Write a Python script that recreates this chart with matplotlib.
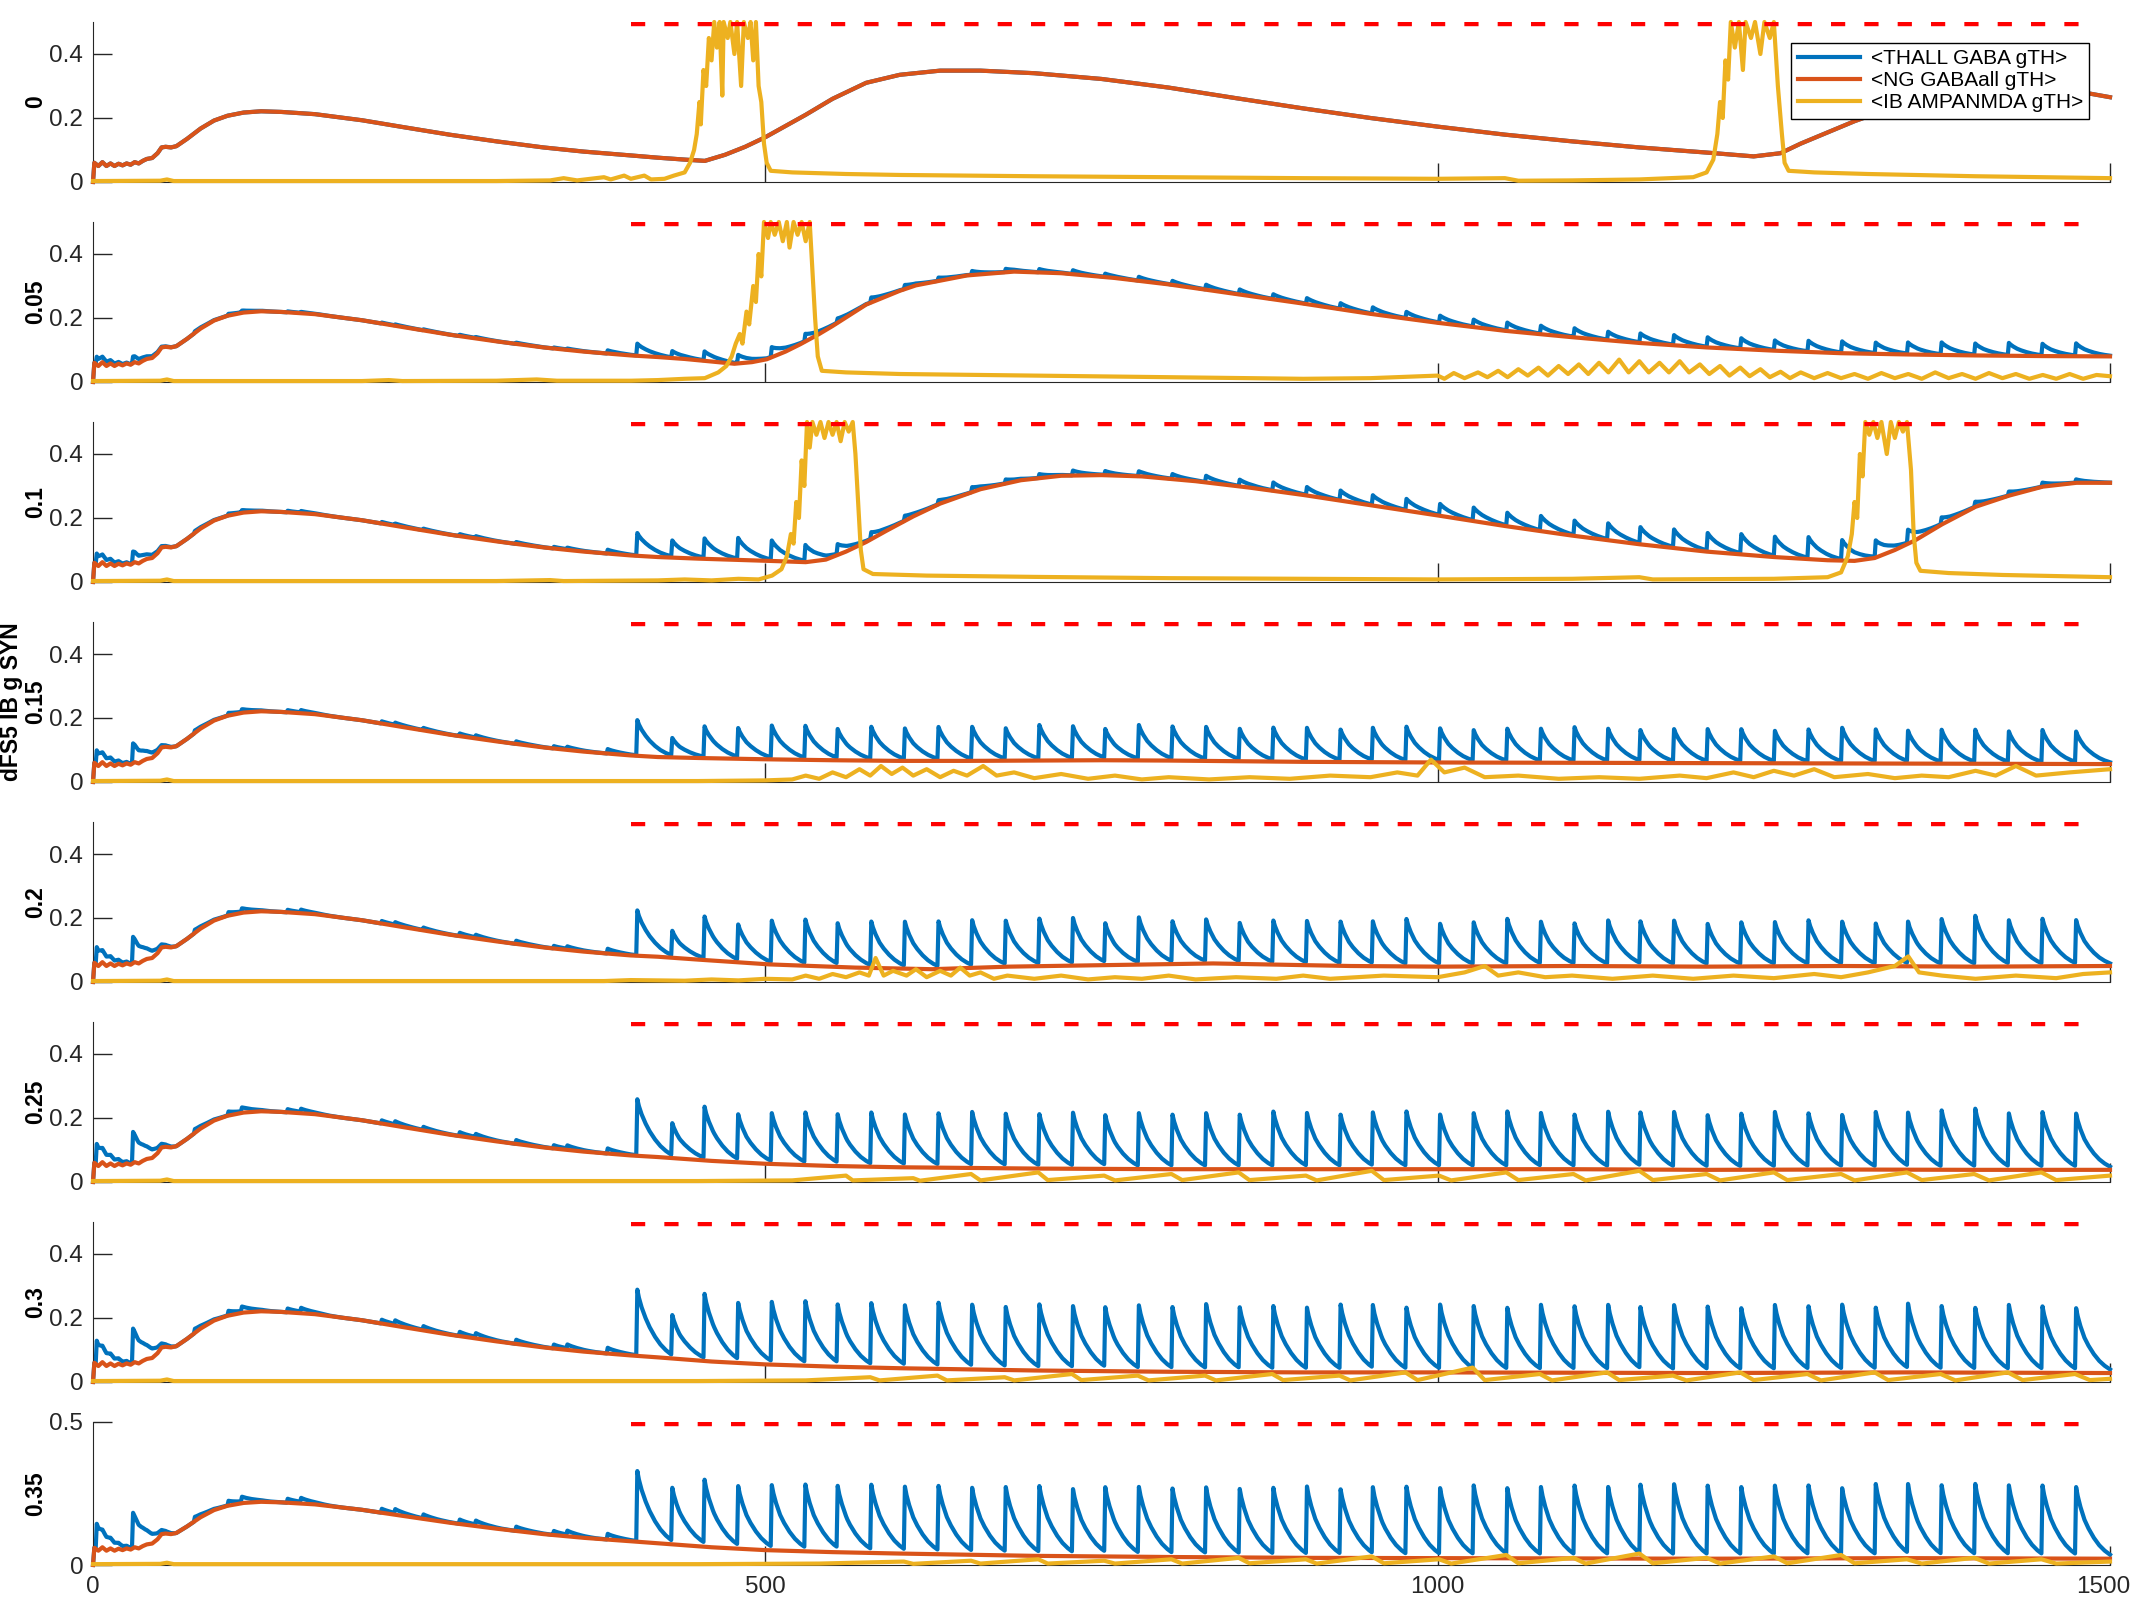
import matplotlib.pyplot as plt
import matplotlib.transforms as mtransforms
import numpy as np

plt.rcParams['font.family'] = ['Liberation Sans', 'DejaVu Sans']

BLUE = '#0072BD'
ORANGE = '#D95319'
YELLOW = '#EDB120'
GREY = '#262626'

panel_labels = ['0', '0.05', '0.1', 'dFS5 IB g SYN\n0.15', '0.2', '0.25', '0.3', '0.35']
legend_labels = ['<THALL GABA gTH>', '<NG GABAall gTH>', '<IB AMPANMDA gTH>']

# --- NG GABAall (orange): shared start, then per panel (time ms, value) ---
ng_early = [(0, 0.0), (1, 0.06), (4, 0.05), (7, 0.062), (10, 0.05), (13, 0.058), (16, 0.05),
            (19, 0.057), (22, 0.052), (25, 0.058), (28, 0.054), (31, 0.062), (34, 0.058),
            (37, 0.066), (40, 0.072), (44, 0.075), (48, 0.09), (51, 0.108), (54, 0.11),
            (58, 0.108), (62, 0.112), (70, 0.135), (80, 0.167), (90, 0.192), (100, 0.207),
            (112, 0.217), (125, 0.221), (140, 0.219), (165, 0.212), (200, 0.193), (230, 0.172),
            (265, 0.148), (300, 0.127), (335, 0.108), (365, 0.095), (400, 0.083)]

ng_late_0 = [(420, 0.076), (440, 0.07), (455, 0.066), (470, 0.085), (485, 0.11), (500, 0.14),
             (515, 0.175), (530, 0.21), (550, 0.26), (575, 0.31), (600, 0.335), (630, 0.348),
             (660, 0.348), (700, 0.34), (750, 0.322), (800, 0.295), (850, 0.262), (900, 0.23),
             (950, 0.2), (1000, 0.173), (1050, 0.148), (1100, 0.127), (1150, 0.108), (1200, 0.092),
             (1235, 0.08), (1255, 0.09), (1270, 0.12), (1290, 0.155), (1310, 0.19), (1340, 0.235),
             (1370, 0.272), (1400, 0.298), (1430, 0.305), (1460, 0.295), (1500, 0.265)]
ng_late_1 = [(420, 0.078), (440, 0.072), (460, 0.064), (477, 0.057), (490, 0.062), (501, 0.071),
             (515, 0.095), (526, 0.118), (540, 0.15), (550, 0.175), (575, 0.242), (600, 0.285),
             (612, 0.302), (650, 0.333), (685, 0.345), (720, 0.34), (760, 0.325), (800, 0.305),
             (850, 0.275), (900, 0.245), (950, 0.213), (1000, 0.185), (1050, 0.16), (1100, 0.14),
             (1150, 0.122), (1200, 0.108), (1250, 0.098), (1300, 0.09), (1350, 0.086),
             (1400, 0.083), (1450, 0.081), (1500, 0.08)]
ng_late_2 = [(420, 0.078), (450, 0.073), (480, 0.069), (510, 0.065), (530, 0.062), (545, 0.07),
             (560, 0.095), (575, 0.125), (590, 0.16), (610, 0.205), (630, 0.245), (660, 0.29),
             (690, 0.318), (720, 0.332), (750, 0.334), (780, 0.33), (820, 0.315), (860, 0.295),
             (900, 0.272), (950, 0.24), (1000, 0.208), (1050, 0.175), (1100, 0.145), (1150, 0.118),
             (1200, 0.095), (1250, 0.078), (1290, 0.068), (1310, 0.066), (1325, 0.075), (1340, 0.1),
             (1355, 0.13), (1375, 0.18), (1400, 0.235), (1425, 0.27), (1450, 0.298), (1475, 0.31),
             (1500, 0.31)]
ng_late_3 = [(420, 0.078), (450, 0.075), (500, 0.071), (550, 0.068), (600, 0.066), (650, 0.066),
             (700, 0.067), (750, 0.068), (800, 0.067), (850, 0.065), (900, 0.063), (950, 0.062),
             (1000, 0.061), (1100, 0.06), (1200, 0.059), (1300, 0.058), (1400, 0.057), (1500, 0.056)]
ng_late_4 = [(420, 0.079), (450, 0.07), (503, 0.055), (567, 0.045), (624, 0.04), (681, 0.048),
             (757, 0.053), (833, 0.058), (935, 0.05), (1000, 0.048), (1100, 0.05), (1200, 0.048),
             (1300, 0.05), (1400, 0.048), (1500, 0.05)]
ng_late_5 = [(420, 0.078), (460, 0.066), (500, 0.057), (550, 0.05), (600, 0.046), (700, 0.042),
             (800, 0.04), (900, 0.04), (1000, 0.04), (1100, 0.04), (1200, 0.038), (1300, 0.039),
             (1400, 0.038), (1500, 0.038)]
ng_late_6 = [(420, 0.077), (460, 0.064), (500, 0.055), (550, 0.048), (600, 0.043), (700, 0.036),
             (800, 0.032), (900, 0.03), (1000, 0.03), (1200, 0.028), (1350, 0.03), (1500, 0.028)]
ng_late_7 = [(420, 0.076), (460, 0.062), (500, 0.052), (550, 0.045), (600, 0.04), (700, 0.032),
             (800, 0.028), (900, 0.025), (1000, 0.024), (1200, 0.022), (1350, 0.024), (1500, 0.022)]

# --- THALL GABA (blue): spike times (ms) and spike heights above the NG trace ---
early_spike_t = [2, 29, 75, 100, 110, 144, 154, 214, 224, 245, 272, 284, 314, 342, 352, 382]
spike_t = [404, 430, 454, 479, 504, 529, 553, 578, 603, 628, 653, 678, 703, 728, 752, 777,
           802, 827, 852, 877, 902, 927, 951, 976, 1001, 1026, 1051, 1076, 1101, 1126, 1150,
           1175, 1200, 1225, 1250, 1275, 1300, 1325, 1349, 1374, 1399, 1424, 1449, 1474]

# decay shape of one spike (ms after spike, fraction of height)
spike_shape_dt = [0, 0.8, 2, 4, 7, 10, 14, 18, 22, 26, 32]
spike_shape_f = [0, 1.0, 0.88, 0.74, 0.58, 0.45, 0.31, 0.2, 0.12, 0.06, 0]

early_amp_1 = [0.025, 0.02, 0.005, 0.005, 0.005, 0.003, 0.003, 0.003, 0.003, 0.003, 0.004, 0.003, 0.004, 0.003, 0.003, 0.01]
early_amp_2 = [0.035, 0.035, 0.006, 0.006, 0.006, 0.005, 0.005, 0.005, 0.005, 0.005, 0.006, 0.005, 0.006, 0.005, 0.005, 0.012]
early_amp_3 = [0.045, 0.06, 0.008, 0.008, 0.008, 0.007, 0.007, 0.007, 0.007, 0.007, 0.008, 0.007, 0.008, 0.007, 0.007, 0.014]
early_amp_4 = [0.055, 0.08, 0.01, 0.01, 0.01, 0.008, 0.008, 0.008, 0.008, 0.008, 0.01, 0.008, 0.01, 0.008, 0.008, 0.015]
early_amp_5 = [0.065, 0.095, 0.012, 0.012, 0.012, 0.01, 0.01, 0.01, 0.01, 0.01, 0.012, 0.01, 0.012, 0.01, 0.01, 0.016]
early_amp_6 = [0.075, 0.105, 0.013, 0.014, 0.014, 0.012, 0.012, 0.012, 0.012, 0.012, 0.013, 0.012, 0.013, 0.012, 0.012, 0.018]
early_amp_7 = [0.09, 0.12, 0.015, 0.016, 0.016, 0.014, 0.014, 0.014, 0.014, 0.014, 0.015, 0.014, 0.015, 0.014, 0.014, 0.02]

amp_1 = [0.037, 0.02, 0.028, 0.025, 0.03, 0.022, 0.012, 0.015, 0.012, 0.01, 0.012, 0.01, 0.01, 0.012,
         0.01, 0.012, 0.012, 0.015, 0.015, 0.015, 0.018, 0.018, 0.02, 0.02, 0.022, 0.022, 0.025, 0.025,
         0.027, 0.025, 0.028, 0.03, 0.03, 0.032, 0.03, 0.033, 0.035, 0.033, 0.035, 0.037, 0.035, 0.038,
         0.036, 0.038]
amp_2 = [0.07, 0.05, 0.06, 0.065, 0.06, 0.05, 0.03, 0.02, 0.015, 0.012, 0.015, 0.012, 0.012, 0.015,
         0.012, 0.015, 0.015, 0.02, 0.02, 0.025, 0.025, 0.03, 0.03, 0.035, 0.035, 0.04, 0.04, 0.045,
         0.045, 0.05, 0.05, 0.055, 0.055, 0.06, 0.06, 0.065, 0.06, 0.05, 0.04, 0.02, 0.015, 0.012,
         0.012, 0.01]
amp_3 = [0.11, 0.055, 0.095, 0.09, 0.1, 0.1, 0.09, 0.1, 0.095, 0.1, 0.1, 0.095, 0.105, 0.1, 0.09,
         0.105, 0.1, 0.1, 0.095, 0.1, 0.1, 0.095, 0.1, 0.105, 0.1, 0.095, 0.1, 0.1, 0.105, 0.1, 0.095,
         0.1, 0.1, 0.1, 0.095, 0.1, 0.105, 0.1, 0.095, 0.1, 0.1, 0.095, 0.1, 0.095]
amp_4 = [0.14, 0.077, 0.13, 0.11, 0.13, 0.136, 0.126, 0.137, 0.138, 0.14, 0.14, 0.135, 0.14, 0.14,
         0.12, 0.14, 0.125, 0.13, 0.12, 0.13, 0.13, 0.13, 0.13, 0.14, 0.125, 0.13, 0.14, 0.13, 0.125,
         0.135, 0.13, 0.135, 0.125, 0.13, 0.13, 0.135, 0.13, 0.125, 0.13, 0.14, 0.15, 0.135, 0.14, 0.135]
amp_5 = [0.175, 0.1, 0.16, 0.14, 0.15, 0.155, 0.15, 0.16, 0.155, 0.16, 0.165, 0.16, 0.16, 0.165,
         0.155, 0.165, 0.16, 0.165, 0.16, 0.17, 0.165, 0.16, 0.165, 0.17, 0.16, 0.165, 0.17, 0.165,
         0.16, 0.17, 0.165, 0.17, 0.16, 0.165, 0.17, 0.165, 0.16, 0.17, 0.165, 0.175, 0.18, 0.165,
         0.17, 0.165]
amp_6 = [0.205, 0.125, 0.2, 0.175, 0.185, 0.19, 0.18, 0.19, 0.185, 0.195, 0.19, 0.185, 0.195, 0.19,
         0.185, 0.195, 0.19, 0.2, 0.19, 0.195, 0.19, 0.2, 0.195, 0.19, 0.2, 0.195, 0.19, 0.2, 0.195,
         0.2, 0.19, 0.2, 0.195, 0.19, 0.2, 0.195, 0.2, 0.19, 0.2, 0.195, 0.19, 0.2, 0.195, 0.19]
amp_7 = [0.245, 0.185, 0.22, 0.205, 0.215, 0.22, 0.215, 0.225, 0.22, 0.225, 0.22, 0.225, 0.23, 0.22,
         0.225, 0.23, 0.225, 0.23, 0.225, 0.23, 0.235, 0.225, 0.23, 0.235, 0.23, 0.24, 0.23, 0.235,
         0.24, 0.235, 0.24, 0.245, 0.24, 0.235, 0.24, 0.24, 0.23, 0.245, 0.24, 0.24, 0.245, 0.24,
         0.24, 0.235]

# --- IB AMPANMDA (yellow): (time ms, value) ---
ib_0 = [(0, 0.003), (50, 0.004), (55, 0.008), (60, 0.003), (300, 0.003), (340, 0.005), (350, 0.012),
        (360, 0.005), (380, 0.015), (385, 0.008), (395, 0.02), (400, 0.01), (410, 0.02), (415, 0.008),
        (425, 0.01), (432, 0.02), (440, 0.03), (444, 0.06), (447, 0.1), (449, 0.15), (451, 0.25),
        (452, 0.18), (454, 0.35), (456, 0.3), (458, 0.45), (460, 0.38), (462, 0.5), (464, 0.42),
        (466, 0.5), (468, 0.27), (469, 0.5), (472, 0.45), (474, 0.5), (477, 0.4), (479, 0.5),
        (482, 0.3), (484, 0.5), (487, 0.45), (489, 0.5), (491, 0.38), (493, 0.5), (495, 0.3),
        (497, 0.25), (499, 0.12), (501, 0.06), (504, 0.035), (520, 0.03), (560, 0.025), (600, 0.022),
        (700, 0.018), (800, 0.015), (900, 0.012), (1000, 0.01), (1050, 0.012), (1060, 0.004),
        (1100, 0.005), (1150, 0.008), (1190, 0.015), (1200, 0.03), (1205, 0.07), (1208, 0.15),
        (1210, 0.25), (1212, 0.2), (1214, 0.38), (1216, 0.32), (1218, 0.5), (1221, 0.42), (1224, 0.5),
        (1227, 0.35), (1229, 0.5), (1233, 0.45), (1236, 0.5), (1240, 0.4), (1243, 0.5), (1247, 0.45),
        (1250, 0.5), (1253, 0.3), (1256, 0.15), (1258, 0.06), (1261, 0.035), (1280, 0.03),
        (1320, 0.025), (1400, 0.018), (1500, 0.012)]
ib_1 = [(0, 0.003), (50, 0.004), (55, 0.008), (60, 0.003), (200, 0.003), (220, 0.006), (230, 0.003),
        (300, 0.004), (330, 0.008), (345, 0.004), (400, 0.004), (420, 0.006), (440, 0.01), (455, 0.012),
        (465, 0.03), (471, 0.05), (475, 0.08), (478, 0.12), (481, 0.15), (483, 0.12), (486, 0.22),
        (488, 0.18), (491, 0.3), (493, 0.25), (495, 0.4), (497, 0.33), (499, 0.5), (502, 0.45),
        (504, 0.5), (507, 0.46), (510, 0.5), (513, 0.44), (516, 0.5), (518, 0.42), (521, 0.5),
        (524, 0.46), (527, 0.5), (530, 0.44), (533, 0.5), (535, 0.35), (537, 0.2), (539, 0.08),
        (542, 0.035), (560, 0.03), (600, 0.025), (700, 0.02), (800, 0.015), (900, 0.01), (950, 0.012),
        (1000, 0.02), (1005, 0.01), (1012, 0.028), (1020, 0.012), (1030, 0.03), (1037, 0.015),
        (1045, 0.035), (1052, 0.015), (1060, 0.04), (1067, 0.02), (1075, 0.045), (1082, 0.02),
        (1090, 0.05), (1097, 0.025), (1105, 0.055), (1112, 0.025), (1120, 0.06), (1127, 0.03),
        (1135, 0.07), (1142, 0.03), (1150, 0.065), (1157, 0.03), (1165, 0.06), (1172, 0.03),
        (1180, 0.065), (1187, 0.03), (1195, 0.055), (1202, 0.025), (1210, 0.05), (1217, 0.02),
        (1225, 0.045), (1232, 0.018), (1240, 0.04), (1247, 0.015), (1255, 0.032), (1262, 0.012),
        (1270, 0.03), (1280, 0.012), (1290, 0.028), (1300, 0.012), (1310, 0.025), (1320, 0.01),
        (1330, 0.028), (1340, 0.012), (1350, 0.025), (1360, 0.01), (1370, 0.03), (1380, 0.012),
        (1390, 0.025), (1400, 0.01), (1410, 0.028), (1420, 0.012), (1430, 0.025), (1440, 0.01),
        (1450, 0.022), (1460, 0.01), (1470, 0.025), (1480, 0.01), (1490, 0.022), (1500, 0.018)]
ib_2 = [(0, 0.003), (50, 0.004), (55, 0.008), (60, 0.003), (300, 0.003), (340, 0.006), (350, 0.003),
        (420, 0.005), (440, 0.008), (460, 0.005), (480, 0.01), (495, 0.008), (505, 0.02), (512, 0.04),
        (516, 0.08), (519, 0.15), (521, 0.12), (523, 0.25), (525, 0.2), (527, 0.38), (529, 0.3),
        (531, 0.5), (533, 0.42), (535, 0.5), (538, 0.46), (541, 0.5), (544, 0.45), (547, 0.5),
        (550, 0.46), (553, 0.5), (556, 0.44), (559, 0.5), (562, 0.47), (565, 0.5), (567, 0.4),
        (569, 0.25), (571, 0.1), (573, 0.04), (580, 0.025), (620, 0.02), (700, 0.016), (800, 0.012),
        (900, 0.01), (1000, 0.008), (1100, 0.01), (1150, 0.015), (1160, 0.008), (1250, 0.01),
        (1290, 0.015), (1300, 0.03), (1305, 0.08), (1308, 0.15), (1310, 0.25), (1312, 0.2),
        (1314, 0.4), (1316, 0.33), (1318, 0.5), (1321, 0.46), (1324, 0.5), (1327, 0.45), (1330, 0.5),
        (1334, 0.4), (1337, 0.5), (1340, 0.45), (1343, 0.5), (1346, 0.47), (1349, 0.5), (1352, 0.35),
        (1354, 0.15), (1356, 0.06), (1359, 0.035), (1380, 0.028), (1420, 0.022), (1500, 0.015)]
ib_3 = [(0, 0.003), (50, 0.004), (55, 0.008), (60, 0.003), (450, 0.003), (500, 0.005), (520, 0.008),
        (530, 0.02), (540, 0.01), (550, 0.03), (560, 0.015), (570, 0.04), (578, 0.02), (586, 0.05),
        (594, 0.025), (602, 0.045), (610, 0.02), (620, 0.04), (630, 0.015), (640, 0.035), (650, 0.02),
        (662, 0.05), (672, 0.02), (685, 0.03), (700, 0.012), (720, 0.025), (740, 0.01), (760, 0.02),
        (780, 0.008), (800, 0.015), (830, 0.008), (860, 0.015), (890, 0.01), (920, 0.02), (950, 0.015),
        (970, 0.03), (985, 0.02), (995, 0.07), (1005, 0.03), (1020, 0.045), (1035, 0.015), (1060, 0.02),
        (1090, 0.01), (1120, 0.015), (1150, 0.01), (1180, 0.02), (1200, 0.012), (1220, 0.03),
        (1235, 0.015), (1250, 0.035), (1265, 0.02), (1280, 0.04), (1295, 0.015), (1320, 0.025),
        (1340, 0.012), (1360, 0.02), (1380, 0.015), (1400, 0.035), (1415, 0.02), (1430, 0.05),
        (1445, 0.02), (1470, 0.03), (1500, 0.04)]
ib_4 = [(0, 0.003), (50, 0.004), (55, 0.008), (60, 0.003), (380, 0.003), (400, 0.006), (440, 0.004),
        (460, 0.008), (480, 0.005), (500, 0.01), (520, 0.008), (530, 0.02), (540, 0.01), (550, 0.025),
        (560, 0.015), (570, 0.03), (577, 0.02), (582, 0.075), (588, 0.02), (595, 0.035), (605, 0.02),
        (612, 0.04), (620, 0.015), (630, 0.035), (638, 0.02), (645, 0.045), (652, 0.02), (660, 0.03),
        (670, 0.01), (680, 0.02), (700, 0.01), (720, 0.02), (740, 0.008), (760, 0.015), (780, 0.01),
        (800, 0.02), (820, 0.008), (850, 0.015), (880, 0.01), (900, 0.02), (920, 0.01), (960, 0.02),
        (1000, 0.015), (1020, 0.03), (1035, 0.05), (1045, 0.02), (1060, 0.03), (1080, 0.015),
        (1100, 0.02), (1130, 0.01), (1160, 0.02), (1190, 0.01), (1220, 0.02), (1250, 0.012),
        (1280, 0.025), (1300, 0.015), (1320, 0.03), (1340, 0.05), (1350, 0.08), (1358, 0.03),
        (1375, 0.02), (1400, 0.01), (1430, 0.02), (1460, 0.012), (1480, 0.025), (1500, 0.03)]
ib_5 = [(0, 0.003), (50, 0.004), (55, 0.008), (60, 0.003), (450, 0.003), (520, 0.005), (560, 0.02),
        (565, 0.005), (610, 0.012), (615, 0.004), (653, 0.025), (660, 0.005), (703, 0.03), (710, 0.006),
        (752, 0.02), (760, 0.005), (802, 0.025), (810, 0.006), (852, 0.03), (860, 0.006), (902, 0.02),
        (910, 0.005), (951, 0.035), (960, 0.006), (1001, 0.02), (1010, 0.005), (1051, 0.03),
        (1060, 0.006), (1101, 0.025), (1110, 0.005), (1150, 0.035), (1160, 0.006), (1200, 0.025),
        (1210, 0.005), (1250, 0.03), (1260, 0.006), (1300, 0.025), (1310, 0.005), (1349, 0.03),
        (1360, 0.006), (1399, 0.025), (1410, 0.005), (1449, 0.03), (1460, 0.006), (1500, 0.02)]
ib_6 = [(0, 0.003), (50, 0.004), (55, 0.008), (60, 0.003), (450, 0.003), (530, 0.005), (578, 0.015),
        (585, 0.005), (628, 0.02), (635, 0.005), (678, 0.015), (685, 0.005), (728, 0.025), (735, 0.006),
        (777, 0.02), (785, 0.005), (827, 0.02), (835, 0.005), (877, 0.025), (885, 0.006), (927, 0.02),
        (935, 0.005), (976, 0.03), (985, 0.006), (1026, 0.045), (1035, 0.006), (1076, 0.025),
        (1085, 0.005), (1126, 0.03), (1135, 0.006), (1175, 0.02), (1185, 0.005), (1225, 0.03),
        (1235, 0.006), (1275, 0.025), (1285, 0.005), (1325, 0.03), (1335, 0.006), (1374, 0.025),
        (1385, 0.005), (1424, 0.03), (1435, 0.006), (1474, 0.025), (1485, 0.006), (1500, 0.01)]
ib_7 = [(0, 0.003), (50, 0.004), (55, 0.008), (60, 0.003), (450, 0.003), (540, 0.005), (603, 0.012),
        (610, 0.004), (653, 0.015), (660, 0.005), (703, 0.02), (710, 0.005), (752, 0.015), (760, 0.005),
        (802, 0.02), (810, 0.005), (852, 0.025), (860, 0.006), (902, 0.02), (910, 0.005), (951, 0.03),
        (960, 0.006), (1001, 0.02), (1010, 0.005), (1051, 0.035), (1060, 0.006), (1101, 0.025),
        (1110, 0.005), (1150, 0.04), (1160, 0.006), (1200, 0.025), (1210, 0.005), (1250, 0.03),
        (1260, 0.006), (1300, 0.035), (1310, 0.006), (1349, 0.02), (1360, 0.005), (1399, 0.025),
        (1410, 0.005), (1449, 0.02), (1460, 0.005), (1500, 0.012)]

# target level shown as red dashes
target_level = 0.494
target_t = [400, 1490]

ng_late = [ng_late_0, ng_late_1, ng_late_2, ng_late_3, ng_late_4, ng_late_5, ng_late_6, ng_late_7]
early_amps = [None, early_amp_1, early_amp_2, early_amp_3, early_amp_4, early_amp_5, early_amp_6, early_amp_7]
amps = [None, amp_1, amp_2, amp_3, amp_4, amp_5, amp_6, amp_7]
ibs = [ib_0, ib_1, ib_2, ib_3, ib_4, ib_5, ib_6, ib_7]


def thall_trace(ng_t, ng_v, times, heights):
    # THALL trace = NG trace plus the spikes sitting on top of it
    tt = set(ng_t)
    for s in times:
        tt.update(s + d for d in spike_shape_dt)
    tt = np.array(sorted(t for t in tt if t <= 1500))
    vals = np.interp(tt, ng_t, ng_v)
    for s, a in zip(times, heights):
        vals = vals + a * np.interp(tt - s, spike_shape_dt, spike_shape_f, left=0, right=0)
    return tt, vals


fig = plt.figure(figsize=(21.33, 16), dpi=100)
W, H = 2133.0, 1600.0
left, right = 93, 2110
tops = [22, 222, 422, 622, 822, 1022, 1222, 1422]
heights = [160, 160, 160, 160, 160, 160, 160, 143]
LW = 3.0

for i in range(8):
    ax = fig.add_axes([left / W, 1 - (tops[i] + heights[i]) / H,
                       (right - left) / W, heights[i] / H])
    ng_t, ng_v = zip(*(ng_early + ng_late[i]))
    if amps[i] is None:
        bt, bv = ng_t, ng_v
    else:
        bt, bv = thall_trace(ng_t, ng_v, early_spike_t + spike_t, early_amps[i] + amps[i])
    ib_t, ib_v = zip(*ibs[i])

    l1, = ax.plot(bt, bv, color=BLUE, lw=LW, zorder=2, clip_on=False)
    l2, = ax.plot(ng_t, ng_v, color=ORANGE, lw=LW, zorder=3, clip_on=False)
    l3, = ax.plot(ib_t, ib_v, color=YELLOW, lw=LW, zorder=4, clip_on=False)
    ax.plot(target_t, [target_level, target_level], color='red', lw=3.2,
            dashes=(3.2, 4.3), zorder=5)

    ax.set_xlim(0, 1500)
    ax.set_ylim(0, 0.5)
    ax.set_xticks([0, 500, 1000, 1500])
    if i < 7:
        ax.set_yticks([0, 0.2, 0.4])
        ax.set_yticklabels(['0', '0.2', '0.4'])
        ax.tick_params(axis='x', labelbottom=False)
    else:
        ax.set_yticks([0, 0.5])
        ax.set_yticklabels(['0', '0.5'])
        ax.set_xticklabels(['0', '500', '1000', '1500'])
        bottom_ax = ax
    ax.tick_params(direction='in', length=14, width=1, colors=GREY, labelsize=17.5)
    ax.tick_params(axis='y', pad=7)
    ax.tick_params(axis='x', pad=8)
    ax.spines['top'].set_visible(False)
    ax.spines['right'].set_visible(False)
    ax.spines['left'].set_color(GREY)
    ax.spines['bottom'].set_color(GREY)
    ax.patch.set_alpha(0)

    lx = -0.0345 if '\n' in panel_labels[i] else -0.0285
    ax.text(lx, 0.5, panel_labels[i], transform=ax.transAxes, rotation=90,
            ha='center', va='center', fontsize=16.5, fontweight='bold',
            multialignment='center', linespacing=1.1)

    if i == 0:
        leg = ax.legend([l1, l2, l3], legend_labels, loc='upper right',
                        bbox_to_anchor=(0.9896, 0.869), borderaxespad=0,
                        fontsize=15, fancybox=False, edgecolor='black', framealpha=1,
                        handlelength=3.0, handletextpad=0.5, labelspacing=0.15,
                        borderpad=0.3)
        leg.get_frame().set_linewidth(1)
        leg.set_zorder(10)

# draw once so the tick labels exist, then keep "1500" inside the figure
fig.canvas.draw()
last = bottom_ax.get_xticklabels()[-1]
last.set_horizontalalignment('right')
last.set_transform(last.get_transform() +
                   mtransforms.ScaledTranslation(0.2, 0, fig.dpi_scale_trans))

fig.savefig('out.png', dpi=100, facecolor='white')
